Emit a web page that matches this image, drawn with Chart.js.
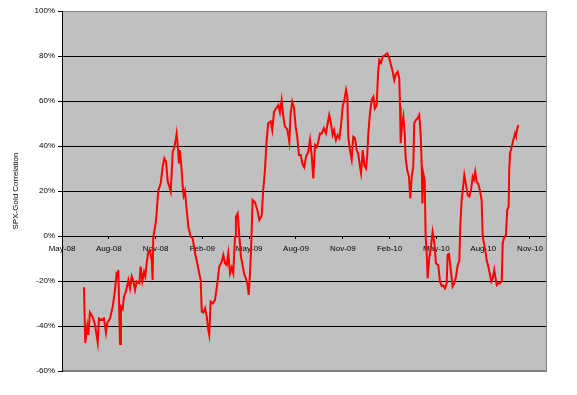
<!DOCTYPE html>
<html>
<head>
<meta charset="utf-8">
<script src="https://cdn.jsdelivr.net/npm/chart.js@4"></script>
<style>
  html, body { margin: 0; padding: 0; background: #ffffff; }
  #wrap { width: 577px; height: 395px; }
</style>
</head>
<body>
<div id="wrap"><canvas id="c" width="577" height="395"></canvas></div>
<script>
// Time position, in months since 1 May 2008
const monthsFromMay08 = [
  1.41,1.49,1.62,1.69,1.79,1.97,2.12,2.29,2.37,2.54,2.69,2.82,2.90,3.08,3.25,3.40,3.51,3.54,3.61,3.67,
  3.72,3.78,3.89,3.97,4.10,4.25,4.36,4.47,4.57,4.68,4.79,4.96,5.04,5.15,5.26,5.34,5.43,5.53,5.64,5.75,
  5.81,5.85,5.90,6.03,6.17,6.33,6.46,6.56,6.67,6.78,6.88,6.97,7.10,7.18,7.29,7.35,7.42,7.50,7.56,7.67,
  7.74,7.80,7.88,7.99,8.10,8.25,8.38,8.53,8.67,8.80,8.89,8.96,9.06,9.17,9.28,9.38,9.44,9.53,9.66,9.81,
  9.96,10.08,10.24,10.34,10.45,10.56,10.66,10.77,10.88,10.98,11.09,11.15,11.26,11.37,11.47,11.58,11.67,11.79,11.88,11.97,
  12.05,12.12,12.22,12.37,12.52,12.65,12.80,12.90,13.01,13.12,13.22,13.38,13.48,13.59,13.72,13.87,13.97,14.08,14.19,14.29,
  14.44,14.57,14.66,14.76,14.87,14.98,15.08,15.19,15.30,15.43,15.53,15.64,15.79,15.90,16.01,16.11,16.22,16.33,16.43,16.54,
  16.65,16.79,16.92,17.03,17.13,17.24,17.35,17.44,17.56,17.67,17.78,17.88,17.99,18.10,18.21,18.29,18.35,18.46,18.57,18.67,
  18.78,18.89,18.99,19.10,19.17,19.28,19.38,19.49,19.57,19.63,19.74,19.85,19.96,20.06,20.17,20.26,20.34,20.45,20.56,20.71,
  20.85,20.98,21.09,21.20,21.30,21.41,21.52,21.62,21.67,21.71,21.79,21.88,21.97,22.03,22.13,22.24,22.33,22.42,22.52,22.58,
  22.69,22.80,22.90,22.99,23.06,23.10,23.16,23.25,23.31,23.38,23.44,23.54,23.65,23.76,23.87,23.97,24.12,24.23,24.34,24.44,
  24.55,24.66,24.72,24.81,24.92,25.04,25.15,25.26,25.37,25.47,25.53,25.62,25.69,25.79,25.90,26.01,26.11,26.22,26.33,26.41,
  26.49,26.58,26.69,26.79,26.90,26.97,27.05,27.13,27.22,27.33,27.44,27.52,27.61,27.71,27.80,27.87,27.97,28.08,28.19,28.25,
  28.33,28.46,28.54,28.63,28.67,28.72,28.83,28.93,29.04,29.10,29.19,29.25
];
// SPX-Gold correlation, percent
const correlationPct = [
  -22.8,-47.6,-40,-44,-34,-36,-39.6,-47.4,-36.6,-37.3,-36.6,-43,-38.7,-36.6,-31.4,-24,-15.9,-19,-15.1,-34,
  -48,-31.4,-32.5,-27,-24.7,-19.6,-23.3,-18,-20,-24,-20.3,-21,-13.6,-20,-15.9,-18,-12,-7,-6.5,-10.7,
  -19.6,-0.5,1.2,7,20,23.5,31,34.5,33,24.1,21.9,19.7,37.5,39,42.7,45.6,40,32.3,38.2,29.3,
  21.9,18,20,12,4,-0.3,-1,-7.7,-12.1,-16.6,-19.6,-33.6,-34,-32.1,-35.9,-41.8,-44,-29.2,-30,-28.4,
  -21,-13.6,-11.4,-8.4,-12.1,-13,-7.7,-16.6,-14,-16.6,-0.3,8.6,10,-0.3,-9.2,-13,-16.6,-19,-21,-26.2,
  -16.6,-6.2,16,15,11.6,7.1,9,20.4,29.3,42.7,50.1,51,47.1,55.2,56.7,58.2,55,60.4,53,48.6,
  47.5,41.9,54.5,59.7,57,48.6,44.1,36,36,31.6,30.5,35.2,37.5,42.7,35.5,25.6,40.4,39.5,41.9,45.6,
  45.6,47.9,45.6,50.1,53.8,50,44.9,47,42.7,44.9,43.5,48.6,57.5,60.4,64.9,62,44.1,38,34,44.1,
  43.5,38.2,36.5,30.8,27.9,38.2,31.5,30.1,36,44.9,54.5,60.4,61.9,56.7,58,72.3,78.2,77,79.7,80.4,
  81.2,79,76,73,69.3,72,73,70,57.5,41.2,48.6,53,45.6,34.5,29.3,26.4,16.7,26.4,30.8,50.1,
  51.6,52.3,53.8,45.6,31,14.5,27.9,25,-0.3,-7.7,-18.8,-10,-4.7,1.9,-3,-12.1,-13,-20.3,-22.2,-22,
  -23.3,-21,-8.4,-8,-15.1,-22.5,-21,-18,-12.9,-11,4.1,16,20.4,27.1,22.7,18.2,17.5,20.4,26.4,25,
  28.6,24.1,23,20.4,16,-0.3,-3.3,-6.2,-10.7,-13.6,-17.3,-20.3,-19,-15.1,-19,-21.8,-21,-21,-20,-3.3,
  -1,0.4,11.6,13,29.3,36.7,39.7,42.7,45.6,44.5,47.9,49.3
];
// Quarterly tick labels and their positions (months since May-08)
const xTickMonths = [0, 3, 6, 9, 12, 15, 18, 21, 24, 27, 30];
const xTickLabels = ['May-08','Aug-08','Nov-08','Feb-09','May-09','Aug-09','Nov-09','Feb-10','May-10','Aug-10','Nov-10'];
const yTickValues = [-60, -40, -20, 0, 20, 40, 60, 80, 100];
const yAxisTitle = 'SPX-Gold Correlation';

Chart.defaults.font.family = "'Liberation Sans', Arial, sans-serif";
Chart.defaults.font.size = 8;
Chart.defaults.color = '#000000';

const plotFrame = {
  id: 'plotFrame',
  beforeDraw(chart) {
    const a = chart.chartArea, ctx = chart.ctx;
    ctx.save();
    ctx.fillStyle = '#C0C0C0';
    ctx.fillRect(a.left, a.top, a.right - a.left, a.bottom - a.top);
    ctx.restore();
  },
  afterDraw(chart) {
    const a = chart.chartArea, ctx = chart.ctx;
    ctx.save();
    ctx.strokeStyle = '#808080';
    ctx.lineWidth = 1;
    ctx.beginPath();
    ctx.moveTo(a.left, a.top + 0.5);
    ctx.lineTo(a.right - 0.5, a.top + 0.5);
    ctx.lineTo(a.right - 0.5, a.bottom - 0.5);
    ctx.lineTo(a.left, a.bottom - 0.5);
    ctx.stroke();
    ctx.strokeStyle = '#000000';
    ctx.beginPath();
    ctx.moveTo(a.left + 0.5, a.top);
    ctx.lineTo(a.left + 0.5, a.bottom);
    ctx.stroke();
    ctx.restore();
  }
};

const points = monthsFromMay08.map((m, i) => ({ x: m, y: correlationPct[i] }));

new Chart(document.getElementById('c'), {
  type: 'line',
  data: {
    datasets: [{
      data: points,
      borderColor: '#FF0000',
      borderWidth: 2,
      pointRadius: 0,
      tension: 0,
      fill: false
    }]
  },
  options: {
    responsive: false,
    animation: false,
    parsing: true,
    layout: { padding: { left: 0, top: 11, right: 30, bottom: 24 } },
    plugins: { legend: { display: false }, tooltip: { enabled: false } },
    scales: {
      x: {
        type: 'linear',
        position: { y: 0 },
        min: 0,
        max: 31.09,
        afterBuildTicks: s => { s.ticks = xTickMonths.map(v => ({ value: v })); },
        afterFit: s => { s.height = 0; },
        ticks: {
          autoSkip: false,
          maxRotation: 0,
          padding: 5,
          callback: (v) => { const i = xTickMonths.indexOf(v); return i >= 0 ? xTickLabels[i] : ''; }
        },
        grid: { drawOnChartArea: false, drawTicks: true, tickLength: 3, color: '#000000' },
        border: { display: false }
      },
      y: {
        type: 'linear',
        min: -60,
        max: 100,
        afterBuildTicks: s => { s.ticks = yTickValues.map(v => ({ value: v })); },
        afterFit: s => { s.width = 62; },
        ticks: { padding: 3, callback: v => v + '%' },
        grid: {
          color: c => (c.tick && (c.tick.value === 100 || c.tick.value === -60)) ? '#808080' : '#000000',
          tickColor: '#000000',
          tickLength: 4,
          lineWidth: 1
        },
        border: { display: true, color: '#000000' },
        title: {
          display: true,
          text: yAxisTitle,
          font: { size: 8 },
          padding: { top: 11, bottom: 0 }
        }
      }
    }
  },
  plugins: [plotFrame]
});
</script>
</body>
</html>
